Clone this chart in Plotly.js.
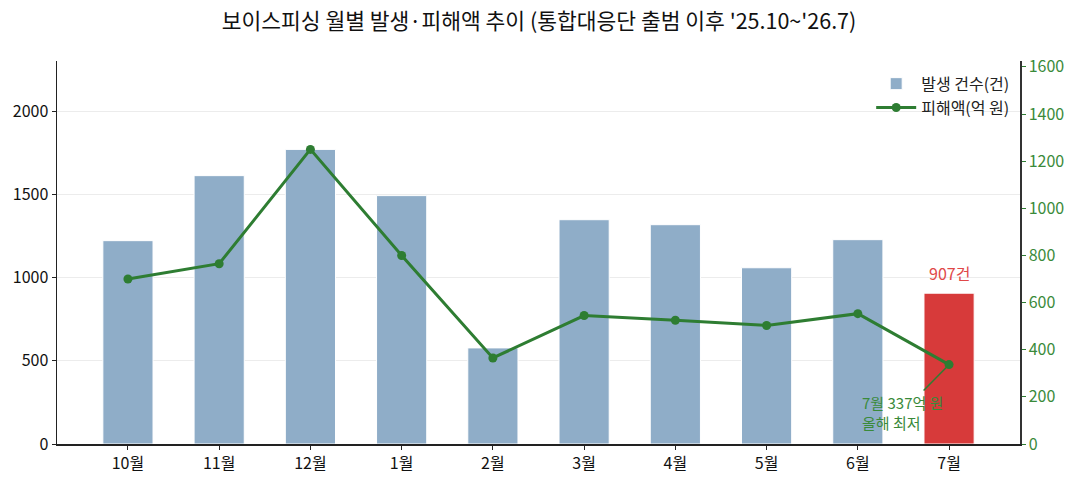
<!DOCTYPE html>
<html>
<head>
<meta charset="utf-8">
<script src="https://cdn.plot.ly/plotly-3.0.1.min.js"></script>
<style>
  body { margin: 0; background: #fff; }
  #chart { width: 1078px; height: 479px; }
</style>
</head>
<body>
<div id="chart"></div>
<script>
// monthly data, Oct 2025 .. Jul 2026
const months = ["10월", "11월", "12월", "1월", "2월", "3월", "4월", "5월", "6월", "7월"];
const cases = [1223, 1614, 1772, 1494, 578, 1349, 1319, 1060, 1229, 907];
const damage = [700, 765, 1250, 800, 365, 545, 525, 503, 553, 337];
const barColors = ["#8FADC8", "#8FADC8", "#8FADC8", "#8FADC8", "#8FADC8",
                   "#8FADC8", "#8FADC8", "#8FADC8", "#8FADC8", "#D73A3A"];

const font = "Noto Sans CJK KR, Noto Sans, sans-serif";
const green = "#2E7D32";
const last = months.length - 1;

const xIdx = months.map((m, i) => i);

const data = [
  {
    type: "bar",
    name: "발생 건수(건)",
    x: xIdx,
    y: cases,
    width: 0.55,
    marker: { color: barColors, line: { color: "#ffffff", width: 1 } },
  },
  {
    type: "scatter",
    mode: "lines+markers",
    name: "피해액(억 원)",
    x: xIdx,
    y: damage,
    yaxis: "y2",
    line: { color: green, width: 3 },
    marker: { color: green, size: 9 },
  },
];

const layout = {
  width: 1078,
  height: 479,
  margin: { l: 57, r: 58, t: 61, b: 35 },
  paper_bgcolor: "#ffffff",
  plot_bgcolor: "#ffffff",
  font: { family: font, size: 16, color: "#222" },
  title: {
    text: "보이스피싱 월별 발생·피해액 추이 (통합대응단 출범 이후 '25.10~'26.7)",
    font: { size: 21.5, color: "#111" },
    x: 0.5,
    y: 0.955,
    yanchor: "middle",
  },
  showlegend: true,
  legend: {
    x: 0.995,
    y: 0.985,
    xanchor: "right",
    yanchor: "top",
    bgcolor: "rgba(255,255,255,0)",
    font: { size: 16, color: "#222" },
    traceorder: "normal",
    itemwidth: 40,
  },
  xaxis: {
    range: [-0.7775, 9.7775],
    tickmode: "array",
    tickvals: xIdx,
    ticktext: months,
    ticks: "outside",
    ticklen: 4,
    tickcolor: "#222",
    showline: true,
    linecolor: "#222",
    linewidth: 1.5,
    showgrid: false,
    zeroline: false,
    tickfont: { size: 16, color: "#111" },
    fixedrange: true,
  },
  yaxis: {
    range: [0, Math.max(...cases) * 1.3],
    tickvals: [0, 500, 1000, 1500, 2000],
    ticks: "outside",
    ticklen: 4,
    tickcolor: "#222",
    showline: true,
    linecolor: "#222",
    linewidth: 1.5,
    showgrid: true,
    gridcolor: "#ececec",
    gridwidth: 1,
    zeroline: false,
    tickfont: { size: 16, color: "#111" },
  },
  yaxis2: {
    overlaying: "y",
    side: "right",
    range: [0, Math.max(...damage) * 1.3],
    tickvals: [0, 200, 400, 600, 800, 1000, 1200, 1400, 1600],
    ticks: "outside",
    ticklen: 4,
    tickcolor: green,
    showline: true,
    linecolor: "#333",
    linewidth: 1.5,
    showgrid: false,
    zeroline: false,
    tickfont: { size: 16, color: "#3A8A3A" },
  },
  annotations: [
    {
      x: last,
      y: cases[last],
      xref: "x",
      yref: "y",
      text: cases[last] + "건",
      showarrow: false,
      yanchor: "bottom",
      yshift: 6,
      font: { size: 16, color: "#E04848" },
    },
    {
      x: last,
      y: damage[last],
      xref: "x",
      yref: "y2",
      text: "7월 " + damage[last] + "억 원<br>올해 최저",
      align: "left",
      showarrow: true,
      arrowhead: 0,
      arrowwidth: 1.5,
      arrowcolor: green,
      ax: -47,
      ay: 48,
      standoff: 4,
      font: { size: 15, color: "#3A8A3A" },
    },
  ],
};

Plotly.newPlot("chart", data, layout, { displayModeBar: false, staticPlot: true });
</script>
</body>
</html>
